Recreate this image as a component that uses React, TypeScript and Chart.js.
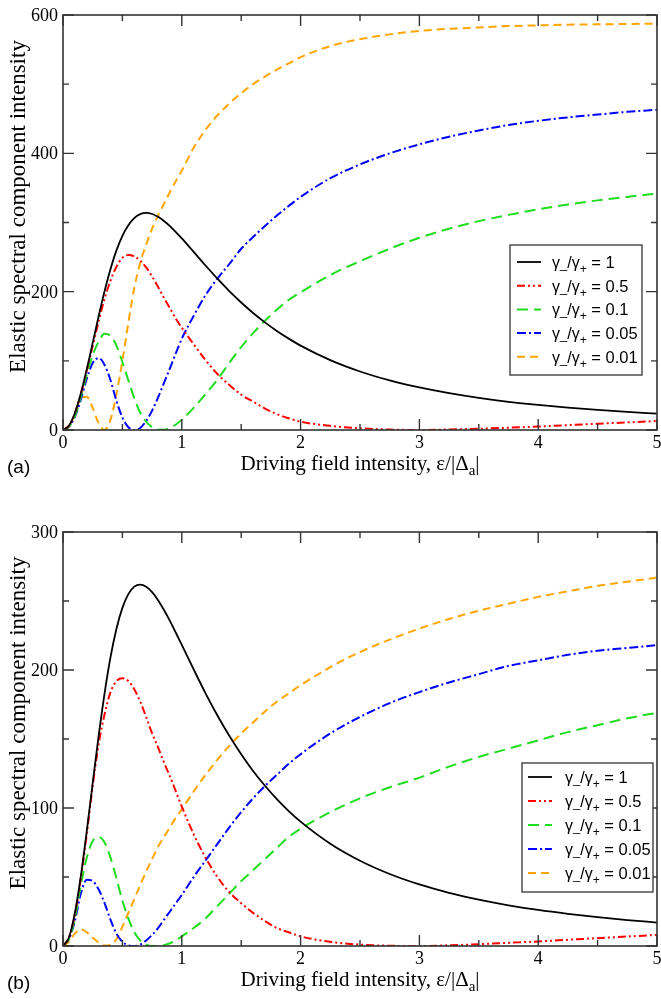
import React, { useEffect, useRef } from "react";
import { Chart, registerables } from "chart.js";
Chart.register(...registerables);

// ---------- data ----------
const xValues = [0, 0.05, 0.1, 0.15, 0.2, 0.25, 0.3, 0.35, 0.4, 0.45, 0.5, 0.55, 0.6, 0.65, 0.7, 0.75, 0.8, 0.85, 0.9, 0.95, 1.0, 1.1, 1.2, 1.3, 1.4, 1.5, 1.6, 1.7, 1.8, 1.9, 2.0, 2.25, 2.5, 2.75, 3.0, 3.25, 3.5, 3.75, 4.0, 4.25, 4.5, 4.75, 5.0];

// panel (a)
const aRatio1 = [0, 6.3, 24.6, 52.7, 87.6, 125.9, 164.5, 200.8, 232.9, 259.7, 280.8, 296.2, 306.4, 312.0, 313.8, 312.3, 308.2, 302.2, 294.8, 286.2, 277.0, 257.5, 237.8, 218.7, 200.8, 184.3, 169.2, 155.6, 143.2, 132.1, 122.0, 101, 84.6, 71.7, 61.5, 53.2, 46.4, 40.8, 36.2, 32.3, 29.0, 26.1, 23.7];
const aRatio05 = [0, 6, 24, 52, 86, 122, 157, 190, 216, 236, 249, 253, 251, 245, 235, 222, 207, 191, 176, 161, 148, 124, 101, 81, 65, 51, 41, 31, 23, 17, 12, 6, 2.5, 0.6, 0.1, 0.7, 1.8, 3.3, 5, 7, 9, 11, 13];
const aRatio01 = [0, 5, 20, 48, 80, 108, 128, 139, 136, 122, 98, 72, 46, 25, 12, 4, 0.5, 0.5, 3, 8, 15, 32, 52, 73, 97, 120, 140, 158, 174, 188, 199, 224, 244, 262, 278, 291, 302, 311, 319, 326, 332, 337, 342];
const aRatio005 = [0, 5, 19, 44, 74, 97, 104, 94, 72, 42, 18, 4, 0, 3, 13, 28, 47, 68, 89, 111, 132, 165, 195, 219, 240, 262, 279, 295, 310, 324, 337, 364, 384, 400, 413, 424, 433, 441, 447, 452, 456, 460, 463];
const aRatio001 = [0, 6, 22, 46, 48, 32, 10, 0.3, 15, 52, 100, 155, 205, 242, 268, 291, 310, 327, 344, 360, 375, 408, 434, 455, 472, 487, 500, 511, 521, 530, 539, 555, 565, 572, 577, 580, 582, 584, 585, 586, 586.5, 587, 587.5];

// panel (b)
const bRatio1 = [0, 6.2, 23.8, 50.6, 83.2, 118.1, 152.2, 183.1, 209.3, 229.9, 245.0, 255.0, 260.4, 261.9, 260.4, 256.4, 250.6, 243.5, 235.6, 227.0, 218.2, 200.4, 183.1, 167.0, 152.3, 138.9, 126.8, 116.1, 106.4, 97.8, 90.1, 74.1, 61.8, 52.2, 44.6, 38.5, 33.6, 29.5, 26.1, 23.3, 20.9, 18.8, 17.0];
const bRatio05 = [0, 6, 23, 49, 81, 116, 146, 168, 184, 192, 194, 192, 186, 177, 166, 154, 144, 133, 123, 112, 101, 81, 64, 50, 39, 31, 24, 18, 13, 10, 7, 3, 1, 0.2, 0, 0.5, 1.3, 2.3, 3.3, 4.5, 5.7, 6.9, 8];
const bRatio01 = [0, 5, 20, 44, 64, 76, 79, 75, 64, 49, 33, 20, 10, 4, 1, 0, 0, 0.5, 2, 4, 7, 13, 20, 29, 38, 47, 55, 63, 71, 79, 85, 97, 107, 115, 122, 130, 137, 143, 149, 155, 160, 165, 169];
const bRatio005 = [0, 5, 18, 38, 48, 47, 41, 31, 19, 9, 3, 0.5, 0, 1, 4, 8, 13, 19, 25, 31, 37, 50, 62, 74, 86, 97, 107, 116, 124, 132, 139, 154, 166, 176, 184, 191, 197, 203, 207, 211, 214, 216, 218];
const bRatio001 = [0, 3, 9, 12, 10, 6, 2.5, 0.3, 1, 5, 14, 24, 34, 44, 54, 63, 72, 79, 86, 93, 99, 112, 124, 135, 145, 154, 162, 170, 177, 183, 189, 202, 213, 222, 230, 237, 243, 248, 253, 257, 261, 264, 267];

const legendRatios = ["1", "0.5", "0.1", "0.05", "0.01"];
const xMajorTicks = [0, 1, 2, 3, 4, 5];
const xMinorTicks = [0.5, 1.5, 2.5, 3.5, 4.5];
const aYMajorTicks = [0, 200, 400, 600];
const aYMinorTicks = [100, 300, 500];
const bYMajorTicks = [0, 100, 200, 300];
const bYMinorTicks = [50, 150, 250];
const xTitle = "Driving field intensity, ε/|Δ";
const xTitleSub = "a";
const yTitle = "Elastic spectral component intensity";

// ---------- styles ----------
const STYLES = [
  { color: "#000000", dash: [] as number[], width: 1.8 },
  { color: "#ff0000", dash: [8, 3, 2, 3, 2, 3], width: 2 },
  { color: "#1fdc1f", dash: [11, 6], width: 2 },
  { color: "#0000ff", dash: [9, 3, 2, 3], width: 2 },
  { color: "#ffa500", dash: [8, 5], width: 2 },
];

const SERIF = '"Liberation Serif", "Times New Roman", serif';
const SANS = '"Liberation Sans", Arial, sans-serif';

type PanelCfg = {
  height: number;
  padTop: number;
  xAxisH: number;
  yMax: number;
  yMajor: number[];
  yMinor: number[];
  series: number[][];
  legend: { x: number; y: number; w: number; h: number; firstRow: number; rowGap: number; lineX: number; textX: number };
  letter: string;
  letterBaseline: number;
};

function drawRich(ctx: CanvasRenderingContext2D, parts: { t: string; font: string; dy: number }[], x: number, y: number) {
  let cx = x;
  for (const p of parts) {
    ctx.font = p.font;
    ctx.fillText(p.t, cx, y + p.dy);
    cx += ctx.measureText(p.t).width;
  }
  return cx;
}

function richWidth(ctx: CanvasRenderingContext2D, parts: { t: string; font: string; dy: number }[]) {
  let w = 0;
  for (const p of parts) {
    ctx.font = p.font;
    w += ctx.measureText(p.t).width;
  }
  return w;
}

function makePlugin(cfg: PanelCfg) {
  return {
    id: "frameDecor",
    afterDraw(chart: any) {
      const ctx: CanvasRenderingContext2D = chart.ctx;
      const { left, right, top, bottom } = chart.chartArea;
      const xs = chart.scales.x;
      const ys = chart.scales.y;
      ctx.save();
      ctx.setLineDash([]);
      ctx.strokeStyle = "#333333";
      ctx.lineWidth = 1.6;
      ctx.strokeRect(left, top, right - left, bottom - top);
      const MAJ = 11, MIN = 6;
      ctx.lineWidth = 1.4;
      ctx.beginPath();
      for (const v of xMajorTicks) {
        const px = xs.getPixelForValue(v);
        ctx.moveTo(px, bottom); ctx.lineTo(px, bottom - MAJ);
        ctx.moveTo(px, top); ctx.lineTo(px, top + MAJ);
      }
      for (const v of xMinorTicks) {
        const px = xs.getPixelForValue(v);
        ctx.moveTo(px, bottom); ctx.lineTo(px, bottom - MIN);
        ctx.moveTo(px, top); ctx.lineTo(px, top + MIN);
      }
      for (const v of cfg.yMajor) {
        const py = ys.getPixelForValue(v);
        ctx.moveTo(left, py); ctx.lineTo(left + MAJ, py);
        ctx.moveTo(right, py); ctx.lineTo(right - MAJ, py);
      }
      for (const v of cfg.yMinor) {
        const py = ys.getPixelForValue(v);
        ctx.moveTo(left, py); ctx.lineTo(left + MIN, py);
        ctx.moveTo(right, py); ctx.lineTo(right - MIN, py);
      }
      ctx.stroke();

      // tick labels
      ctx.fillStyle = "#000";
      ctx.font = `18px ${SERIF}`;
      ctx.textBaseline = "alphabetic";
      ctx.textAlign = "center";
      for (const v of xMajorTicks) {
        ctx.fillText(String(v), xs.getPixelForValue(v), bottom + 18);
      }
      ctx.textAlign = "right";
      for (const v of cfg.yMajor) {
        ctx.fillText(String(v), left - 5, ys.getPixelForValue(v) + 6);
      }

      // x title
      ctx.textAlign = "left";
      const tparts = [
        { t: xTitle, font: `21px ${SERIF}`, dy: 0 },
        { t: xTitleSub, font: `15px ${SERIF}`, dy: 5 },
        { t: "|", font: `21px ${SERIF}`, dy: 0 },
      ];
      const tw = richWidth(ctx, tparts);
      drawRich(ctx, tparts, (left + right) / 2 - tw / 2, bottom + 40);

      // y title
      ctx.save();
      ctx.font = `23px ${SERIF}`;
      ctx.translate(25, (top + bottom) / 2 - 16);
      ctx.rotate(-Math.PI / 2);
      ctx.textAlign = "center";
      ctx.fillText(yTitle, 0, 0);
      ctx.restore();

      // panel letter
      ctx.font = `19px ${SANS}`;
      ctx.textAlign = "left";
      ctx.fillText(`(${cfg.letter})`, 7, cfg.letterBaseline);

      // legend
      const L = cfg.legend;
      ctx.fillStyle = "#fff";
      ctx.fillRect(L.x, L.y, L.w, L.h);
      ctx.strokeStyle = "#333";
      ctx.lineWidth = 1.3;
      ctx.strokeRect(L.x, L.y, L.w, L.h);
      legendRatios.forEach((r, i) => {
        const cy = L.firstRow + i * L.rowGap;
        const st = STYLES[i];
        ctx.strokeStyle = st.color;
        ctx.lineWidth = st.width;
        ctx.setLineDash(st.dash);
        ctx.beginPath();
        ctx.moveTo(L.lineX, cy);
        ctx.lineTo(L.lineX + 24, cy);
        ctx.stroke();
        ctx.setLineDash([]);
        ctx.fillStyle = "#000";
        drawRich(ctx, [
          { t: "γ", font: `16px ${SANS}`, dy: 0 },
          { t: "_", font: `13px ${SANS}`, dy: 0 },
          { t: "/γ", font: `16px ${SANS}`, dy: 0 },
          { t: "+", font: `12px ${SANS}`, dy: 5 },
          { t: ` = ${r}`, font: `16.5px ${SANS}`, dy: 0 },
        ], L.textX, cy + 6);
      });
      ctx.restore();
    },
  };
}

function Panel({ cfg }: { cfg: PanelCfg }) {
  const ref = useRef<HTMLCanvasElement | null>(null);
  useEffect(() => {
    if (!ref.current) return;
    const datasets = cfg.series.map((vals, i) => ({
      label: `γ_/γ+ = ${legendRatios[i]}`,
      data: xValues.map((x, k) => ({ x, y: vals[k] })),
      borderColor: STYLES[i].color,
      borderDash: STYLES[i].dash,
      borderWidth: STYLES[i].width,
      pointRadius: 0,
      fill: false,
      cubicInterpolationMode: "monotone" as const,
    }));
    const chart = new Chart(ref.current, {
      type: "line",
      data: { datasets },
      options: {
        animation: false,
        responsive: false,
        maintainAspectRatio: false,
        layout: { padding: { top: cfg.padTop, right: 4, left: 0, bottom: 0 } },
        plugins: { legend: { display: false }, tooltip: { enabled: false } },
        scales: {
          x: {
            type: "linear", min: 0, max: 5,
            ticks: { display: false }, grid: { display: false }, border: { display: false },
            afterFit: (s: any) => { s.height = cfg.xAxisH; },
          },
          y: {
            type: "linear", min: 0, max: cfg.yMax,
            ticks: { display: false }, grid: { display: false }, border: { display: false },
            afterFit: (s: any) => { s.width = 63; },
          },
        },
      },
      plugins: [makePlugin(cfg)],
    } as any);
    return () => chart.destroy();
  }, [cfg]);
  return <canvas ref={ref} width={661} height={cfg.height} style={{ display: "block", width: 661, height: cfg.height }} />;
}

const panelA: PanelCfg = {
  height: 500, padTop: 15, xAxisH: 70, yMax: 600,
  yMajor: aYMajorTicks, yMinor: aYMinorTicks,
  series: [aRatio1, aRatio05, aRatio01, aRatio005, aRatio001],
  legend: { x: 510, y: 245, w: 132, h: 130, firstRow: 262, rowGap: 23.7, lineX: 517, textX: 552 },
  letter: "a", letterBaseline: 473,
};
const panelB: PanelCfg = {
  height: 499, padTop: 32, xAxisH: 53, yMax: 300,
  yMajor: bYMajorTicks, yMinor: bYMinorTicks,
  series: [bRatio1, bRatio05, bRatio01, bRatio005, bRatio001],
  legend: { x: 522, y: 263, w: 131, h: 129, firstRow: 277, rowGap: 24, lineX: 528, textX: 565 },
  letter: "b", letterBaseline: 489,
};

export default function App() {
  return (
    <div style={{ position: "absolute", left: 0, top: 0, width: 661, height: 999, background: "#fff" }}>
      <Panel cfg={panelA} />
      <Panel cfg={panelB} />
    </div>
  );
}
